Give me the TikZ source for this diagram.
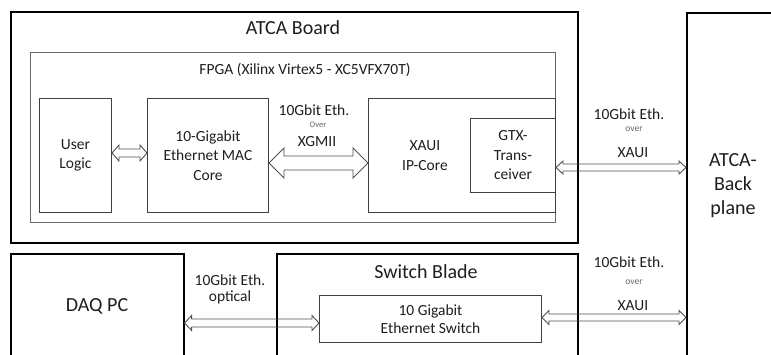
\documentclass[tikz,border=0pt]{standalone}
\usepackage{fontspec}
\setmainfont{Carlito}
\usetikzlibrary{calc}
\definecolor{dk}{RGB}{64,64,64}
\definecolor{fp}{RGB}{105,105,105}
\definecolor{ar}{RGB}{80,80,80}
\definecolor{tx}{RGB}{30,30,30}
\tikzset{
  outerbox/.style={draw=black, line width=1.6pt, inner sep=0pt, anchor=north west},
  fpgabox/.style={draw=fp, line width=1.3pt, inner sep=0pt, anchor=north west},
  innerbox/.style={draw=dk, line width=1pt, inner sep=0pt, anchor=north west, align=center, text=tx, font=\fontsize{15.5}{19.5}\selectfont},
  title/.style={font=\fontsize{20}{24}\selectfont, text=tx, inner sep=0pt},
  subtitle/.style={font=\fontsize{15.5}{18}\selectfont, text=tx, inner sep=0pt},
  lbl/.style={font=\fontsize{15.5}{19}\selectfont, text=tx, inner sep=0pt},
  small/.style={font=\fontsize{9.5}{11}\selectfont, text=dk!80!white, inner sep=0pt},
  blockarrow/.style={draw=ar, line width=0.9pt, line join=miter},
}
\newcommand{\blockarr}[6]{%
  \draw[blockarrow] let \p1=(#1.east), \p2=(#2.west), \p3=(0,#3) in
    (\x1,\y3) -- (\x1+#6pt,\y3+#5pt) -- (\x1+#6pt,\y3+#4pt) -- (\x2-#6pt,\y3+#4pt)
    -- (\x2-#6pt,\y3+#5pt) -- (\x2,\y3) -- (\x2-#6pt,\y3-#5pt) -- (\x2-#6pt,\y3-#4pt)
    -- (\x1+#6pt,\y3-#4pt) -- (\x1+#6pt,\y3-#5pt) -- cycle;}
\begin{document}
\begin{tikzpicture}[x=1pt,y=-1pt]
\useasboundingbox (0,0) rectangle (771,354);
\clip (0,0) rectangle (771,354);
% outer boxes
\node[outerbox, minimum width=567pt, minimum height=231pt] (board) at (10,11) {};
\node[title] (boardt) at (293,28) {ATCA Board};
\node[fpgabox, minimum width=525pt, minimum height=170pt] (fpga) at (30,52) {};
\node[subtitle] (fpgat) at (305,70) {FPGA (Xilinx Virtex5 - XC5VFX70T)};
% inner boxes
\node[innerbox, minimum width=72pt, minimum height=114pt] (user) at (39,98) {User\\Logic};
\node[innerbox, minimum width=121pt, minimum height=114pt] (mac) at (147,98) {10-Gigabit\\Ethernet MAC\\Core};
\node[innerbox, minimum width=187pt, minimum height=114pt] (xaui) at (368,98) {};
\node[lbl, align=center, font=\fontsize{15.5}{20}\selectfont] (xauit) at (425,156) {XAUI\\IP-Core};
\node[innerbox, minimum width=85pt, minimum height=74pt] (gtx) at (470,118) {GTX-\\Trans-\\ceiver};
% backplane
\node[outerbox, minimum width=200pt, minimum height=400pt] (backplane) at (686,12) {};
\node[lbl, align=center, font=\fontsize{20}{24}\selectfont] (bpt) at (733,186) {ATCA-\\Back\\plane};
% bottom
\node[outerbox, minimum width=173pt, minimum height=200pt] (daq) at (10,253) {};
\node[title] (daqt) at (97,306) {DAQ PC};
\node[outerbox, minimum width=301pt, minimum height=200pt] (blade) at (276,253) {};
\node[title] (bladet) at (426,272) {Switch Blade};
\node[innerbox, minimum width=222pt, minimum height=47pt, font=\fontsize{15.5}{18.5}\selectfont] (eswitch) at (319,295) {10 Gigabit\\Ethernet Switch};
% arrows
\blockarr{user}{mac}{153}{4}{8}{7}
\blockarr{mac}{xaui}{163}{7}{15}{15}
\blockarr{gtx}{backplane}{167.5}{3.5}{6.5}{7}
\blockarr{daq}{eswitch}{323}{4}{7.5}{7}
\blockarr{eswitch}{backplane}{317.5}{3.5}{7}{7}
% labels
\node[lbl] (l1a) at (314,110) {10Gbit Eth.};
\node[small, font=\fontsize{8.5}{10}\selectfont] (l1b) at (318,125) {Over};
\node[lbl] (l1c) at (317,142) {XGMII};
\node[lbl] (l2a) at (629,114) {10Gbit Eth.};
\node[small] (l2b) at (634,129) {over};
\node[lbl] (l2c) at (633,153) {XAUI};
\node[lbl] (l3a) at (230,280) {10Gbit Eth.};
\node[lbl] (l3b) at (230,297) {optical};
\node[lbl] (l4a) at (629,262) {10Gbit Eth.};
\node[small] (l4b) at (634,282) {over};
\node[lbl] (l4c) at (633,306) {XAUI};
\end{tikzpicture}
\end{document}
